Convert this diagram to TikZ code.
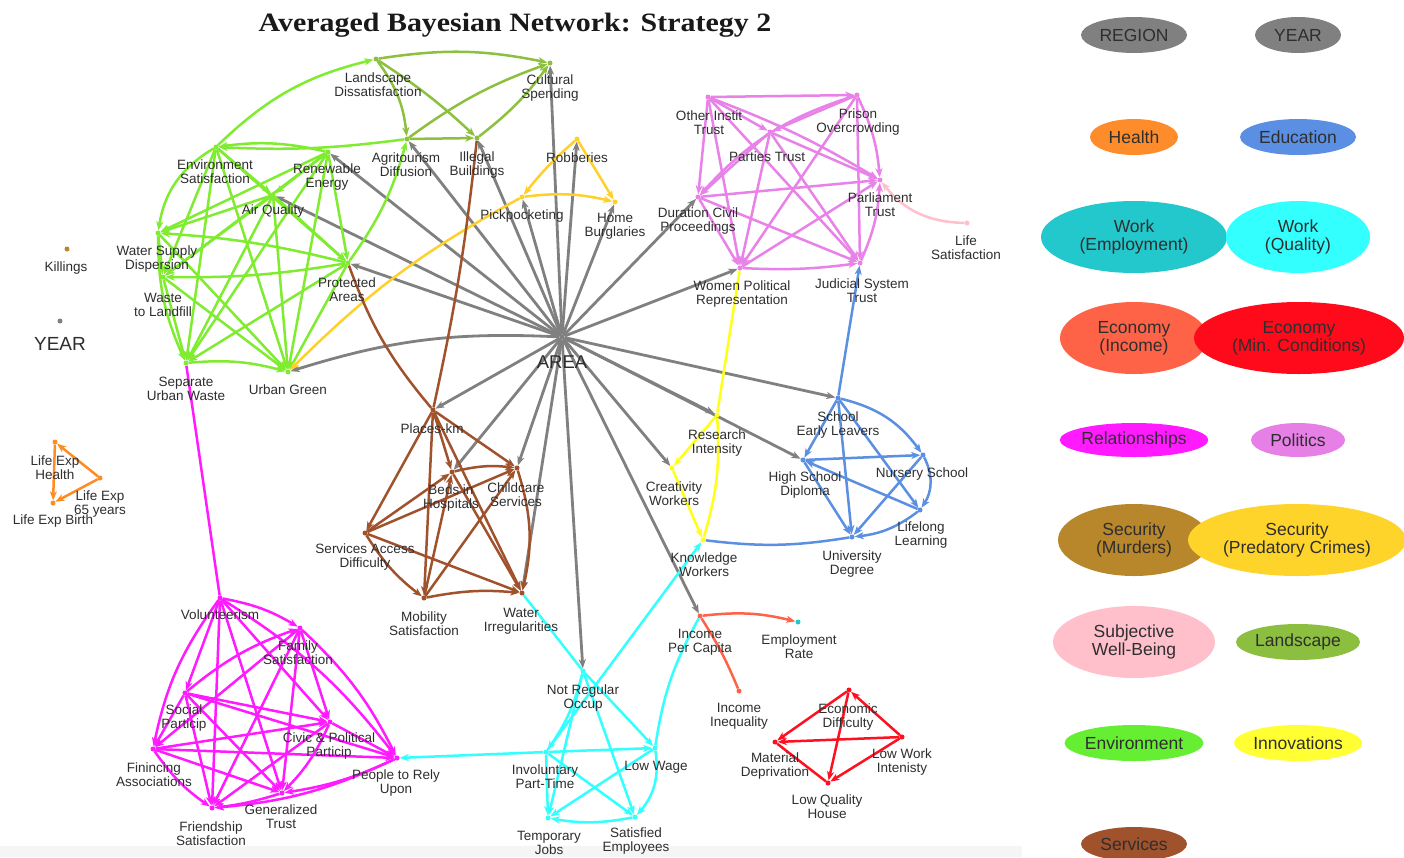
\documentclass[tikz,border=0pt]{standalone}
\usepackage{fontspec}
\usepackage{graphicx}
\setmainfont{Liberation Sans}
\newfontfamily\titlefont{Liberation Serif}
\usetikzlibrary{arrows.meta,shapes.geometric}
\definecolor{txt}{HTML}{2E2E2E}
\definecolor{cgray}{HTML}{808080}
\definecolor{cenv}{HTML}{7FEC30}
\definecolor{cland}{HTML}{8DC03F}
\definecolor{cserv}{HTML}{A0522D}
\definecolor{cpol}{HTML}{E882E8}
\definecolor{cedu}{HTML}{5B8FE2}
\definecolor{cinn}{HTML}{FFFF1A}
\definecolor{cpred}{HTML}{FFD02A}
\definecolor{cwq}{HTML}{33FFFF}
\definecolor{cwe}{HTML}{22C8CC}
\definecolor{cinc}{HTML}{FF6347}
\definecolor{cmin}{HTML}{FF1020}
\definecolor{crel}{HTML}{FF1AFF}
\definecolor{cswb}{HTML}{FFC0CB}
\definecolor{chea}{HTML}{FF8C22}
\definecolor{cmur}{HTML}{B8862B}
\definecolor{lgHea}{HTML}{FF8C2A}
\definecolor{lgEdu}{HTML}{5B8FE3}
\definecolor{lgMin}{HTML}{FF0A1A}
\definecolor{lgPol}{HTML}{E680E6}
\definecolor{lgPred}{HTML}{FFD42A}
\definecolor{lgLand}{HTML}{8CBF3F}
\definecolor{lgEnv}{HTML}{66EE33}
\definecolor{lgInn}{HTML}{FFFF33}
\pgfdeclarelayer{bg}
\pgfdeclarelayer{edges}
\pgfsetlayers{bg,edges,main}
\tikzset{
  pt/.style={circle,fill=#1,inner sep=0pt,minimum size=5pt},
  lb/.style={font=\fontsize{13.5}{14}\selectfont,text=txt,align=center,inner sep=0pt},
  ar/.style={draw=#1,line width=2.5pt,-{Stealth[length=9pt,width=7pt,inset=2.5pt]}},
  ln/.style={draw=#1,line width=2.5pt},
  lg/.style={ellipse,fill=#1,inner sep=0pt,text=txt,align=center,font=\fontsize{17.5}{18}\selectfont}
}
\begin{document}
\begin{tikzpicture}[x=1pt,y=-1pt]
\useasboundingbox (0,0) rectangle (1404,857);
\begin{pgfonlayer}{bg}
\fill[white] (0,0) rectangle (1404,857);
\fill[black!4] (0,846) rectangle (1022,857);
\end{pgfonlayer}

% title
\node[font=\titlefont\bfseries\fontsize{26.5}{30}\selectfont,text=black!90] (title) at (515,25) {\scalebox{1.13}[1]{Averaged Bayesian Network: Strategy 2}};

% ---------- points ----------
% environment
\node[pt=cenv] (ES) at (216,147) {};
\node[pt=cenv] (RE) at (328,152) {};
\node[pt=cenv] (AQ) at (273,195) {};
\node[pt=cenv] (WS) at (158,233) {};
\node[pt=cenv] (WL) at (163,277) {};
\node[pt=cenv] (PA) at (348,263) {};
\node[pt=cenv] (SU) at (186,363) {};
\node[pt=cenv] (UG) at (288,372) {};
% landscape
\node[pt=cland] (LD) at (376,59) {};
\node[pt=cland] (CSp) at (550,63) {};
\node[pt=cland] (AD) at (407,139) {};
\node[pt=cland] (IB) at (477,138) {};
% predatory crimes
\node[pt=cpred] (Rob) at (577,139) {};
\node[pt=cpred] (Pick) at (522,197) {};
\node[pt=cpred] (HB) at (615,202) {};
% politics
\node[pt=cpol] (OIT) at (708,97) {};
\node[pt=cpol] (PO) at (857,95) {};
\node[pt=cpol] (PaT) at (770,132) {};
\node[pt=cpol] (PT) at (880,180) {};
\node[pt=cpol] (DCP) at (698,197) {};
\node[pt=cpol] (WPR) at (740,268) {};
\node[pt=cpol] (JST) at (860,263) {};
\node[pt=cswb] (LS) at (967,223) {};
\node[pt=cmur] (Kil) at (67,249) {};
\node[pt=cgray] (Yr) at (60,321) {};
\node[pt=cgray] (AR) at (562,337) {};
% services
\node[pt=cserv] (PK) at (433,410) {};
\node[pt=cserv] (BH) at (452,472) {};
\node[pt=cserv] (CC) at (517,468) {};
\node[pt=cserv] (SAD) at (365,533) {};
\node[pt=cserv] (MS) at (424,598) {};
\node[pt=cserv] (WI) at (522,593) {};
% education
\node[pt=cedu] (SEL) at (838,398) {};
\node[pt=cedu] (HSD) at (803,460) {};
\node[pt=cedu] (NS) at (923,455) {};
\node[pt=cedu] (LL) at (920,510) {};
\node[pt=cedu] (UD) at (852,537) {};
% innovations
\node[pt=cinn] (RI) at (717,415) {};
\node[pt=cinn] (CW) at (672,468) {};
\node[pt=cinn] (KW) at (703,540) {};
% health
\node[pt=chea] (LEH) at (55,442) {};
\node[pt=chea] (L65) at (100,478) {};
\node[pt=chea] (LEB) at (53,503) {};
% work quality
\node[pt=cwq] (NRO) at (583,671) {};
\node[pt=cwq] (IPT) at (546,752) {};
\node[pt=cwq] (LW) at (655,748) {};
\node[pt=cwq] (TJ) at (548,818) {};
\node[pt=cwq] (SE) at (635,817) {};
% economy
\node[pt=cinc] (IPC) at (700,616) {};
\node[pt=cinc] (II) at (739,691) {};
\node[pt=cwe] (ER) at (798,622) {};
\node[pt=cmin] (ED) at (849,690) {};
\node[pt=cmin] (MD) at (775,742) {};
\node[pt=cmin] (LWI) at (902,737) {};
\node[pt=cmin] (LQH) at (828,783) {};
% relationships
\node[pt=crel] (Vol) at (220,598) {};
\node[pt=crel] (FS) at (300,628) {};
\node[pt=crel] (SP) at (185,693) {};
\node[pt=crel] (CPP) at (330,722) {};
\node[pt=crel] (FA) at (153,749) {};
\node[pt=crel] (PRU) at (397,758) {};
\node[pt=crel] (GT) at (282,793) {};
\node[pt=crel] (FrS) at (212,808) {};

% ---------- edges ----------
\begin{pgfonlayer}{edges}
% gray from AREA
\foreach \t in {CSp,IB,AD,RE,AQ,PA,Pick,Rob,HB,DCP,WPR,PK,BH,CC,WI,NRO,IPC,CW,RI,HSD,SEL}
  \draw[ar=cgray,line width=2.8pt] (AR) -- (\t);
\draw[ar=cgray,line width=2.8pt] (AR) to[bend right=10] (UG);
% environment
\draw[ar=cenv] (ES) to[bend right=25] (WS);
\draw[ar=cenv] (ES) -- (WL);
\draw[ar=cenv] (ES) -- (SU);
\draw[ar=cenv] (ES) -- (UG);
\draw[ar=cenv] (ES) -- (PA);
\draw[ar=cenv] (ES) -- (AQ);
\draw[ar=cenv] (RE) to[bend right=10] (ES);
\draw[ar=cenv] (RE) -- (WS);
\draw[ar=cenv] (RE) -- (WL);
\draw[ar=cenv] (RE) -- (AQ);
\draw[ar=cenv] (RE) -- (SU);
\draw[ar=cenv] (RE) -- (UG);
\draw[ar=cenv] (RE) -- (PA);
\draw[ar=cenv] (AQ) -- (WS);
\draw[ar=cenv] (AQ) -- (WL);
\draw[ar=cenv] (AQ) -- (SU);
\draw[ar=cenv] (AQ) -- (UG);
\draw[ar=cenv] (AQ) -- (PA);
\draw[ar=cenv] (WS) -- (WL);
\draw[ar=cenv] (PA) to[bend right=5] (WS);
\draw[ar=cenv] (PA) to[bend left=5] (WL);
\draw[ar=cenv] (WS) -- (UG);
\draw[ar=cenv] (WS) to[bend right=12] (SU);
\draw[ar=cenv] (WL) -- (SU);
\draw[ar=cenv] (WL) -- (UG);
\draw[ar=cenv] (SU) to[bend left=10] (UG);
\draw[ar=cenv] (PA) -- (SU);
\draw[ar=cenv] (PA) -- (UG);
\draw[ar=cenv] (ES) to[bend left=15] (LD);
\draw[ar=cenv] (AD) to[bend left=5] (ES);
\draw[ar=cenv] (PA) to[bend right=10] (AD);
% landscape
\draw[ar=cland] (LD) to[bend left=10] (CSp);
\draw[ar=cland] (LD) to[bend left=5] (IB);
\draw[ar=cland] (LD) to[bend left=15] (AD);
\draw[ar=cland] (AD) -- (IB);
\draw[ar=cland] (AD) to[bend left=8] (CSp);
\draw[ar=cland] (IB) to[bend right=8] (CSp);
% predatory crimes
\draw[ar=cpred] (Rob) to[bend right=5] (Pick);
\draw[ar=cpred] (Rob) -- (HB);
\draw[ar=cpred] (Pick) to[bend left=10] (HB);
\draw[ar=cpred] (Pick) to[bend right=8] (UG);
% politics
\draw[ar=cpol] (OIT) -- (PO);
\draw[ar=cpol] (OIT) -- (PaT);
\draw[ar=cpol] (OIT) to[bend left=5] (PT);
\draw[ar=cpol] (OIT) -- (DCP);
\draw[ar=cpol] (OIT) -- (WPR);
\draw[ar=cpol] (OIT) -- (JST);
\draw[ar=cpol] (PO) -- (PaT);
\draw[ar=cpol] (PO) to[bend left=10] (PT);
\draw[ar=cpol] (PO) to[bend right=15] (DCP);
\draw[ar=cpol] (PO) -- (WPR);
\draw[ar=cpol] (PO) -- (JST);
\draw[ar=cpol] (PaT) -- (PT);
\draw[ar=cpol] (PaT) -- (DCP);
\draw[ar=cpol] (PaT) -- (WPR);
\draw[ar=cpol] (PaT) -- (JST);
\draw[ar=cpol] (DCP) -- (PT);
\draw[ar=cpol] (WPR) -- (PT);
\draw[ar=cpol] (JST) to[bend right=10] (PT);
\draw[ar=cpol] (DCP) -- (WPR);
\draw[ar=cpol] (DCP) -- (JST);
\draw[ar=cpol] (WPR) to[bend right=5] (JST);
\draw[ar=cswb] (LS) to[bend left=25] (PT);
% services
\draw[ar=cserv] (PK) -- (SAD);
\draw[ar=cserv] (PK) -- (BH);
\draw[ar=cserv] (PK) -- (CC);
\draw[ar=cserv] (PK) -- (MS);
\draw[ar=cserv] (PK) -- (WI);
\draw[ar=cserv] (SAD) -- (BH);
\draw[ar=cserv] (SAD) -- (CC);
\draw[ar=cserv] (SAD) -- (WI);
\draw[ar=cserv] (SAD) to[bend right=10] (MS);
\draw[ar=cserv] (MS) -- (BH);
\draw[ar=cserv] (MS) -- (CC);
\draw[ar=cserv] (MS) to[bend left=8] (WI);
\draw[ar=cserv] (CC) to[bend left=15] (WI);
\draw[ar=cserv] (BH) to[bend left=10] (CC);
\draw[ar=cserv] (BH) -- (WI);
\draw[ln=cserv] (PK) to[bend left=10] (PA);
\draw[ln=cserv] (PK) to[bend right=3] (IB);
% education
\draw[ar=cedu] (SEL) -- (JST);
\draw[ar=cedu] (SEL) -- (HSD);
\draw[ar=cedu] (SEL) to[bend left=20] (NS);
\draw[ar=cedu] (SEL) -- (UD);
\draw[ar=cedu] (SEL) -- (LL);
\draw[ar=cedu] (HSD) -- (NS);
\draw[ar=cedu] (HSD) -- (UD);
\draw[ar=cedu] (LL) -- (HSD);
\draw[ar=cedu] (NS) -- (UD);
\draw[ar=cedu] (NS) to[bend left=30] (LL);
\draw[ar=cedu] (LL) to[bend left=15] (UD);
\draw[ln=cedu] (KW) to[bend right=8] (UD);
% innovations
\draw[ln=cinn] (WPR) -- (RI);
\draw[ln=cinn] (RI) to[bend left=10] (KW);
\draw[ar=cinn] (RI) -- (CW);
\draw[ar=cinn] (CW) -- (KW);
% work quality
\draw[ln=cwq] (WI) -- (NRO);
\draw[ar=cwq] (NRO) -- (LW);
\draw[ar=cwq] (IPT) -- (KW);
\draw[ar=cwq] (NRO) to[bend left=10] (IPT);
\draw[ar=cwq] (NRO) -- (TJ);
\draw[ar=cwq] (NRO) -- (SE);
\draw[ar=cwq] (IPT) -- (LW);
\draw[ar=cwq] (IPT) -- (TJ);
\draw[ar=cwq] (IPT) -- (SE);
\draw[ar=cwq] (LW) -- (TJ);
\draw[ar=cwq] (LW) to[bend left=25] (SE);
\draw[ar=cwq] (SE) to[bend left=10] (TJ);
\draw[ln=cwq] (LW) to[bend left=10] (IPC);
\draw[ar=cwq] (IPT) -- (PRU);
% economy
\draw[ar=cinc] (IPC) to[bend left=10] (ER);
\draw[ln=cinc] (IPC) to[bend left=5] (II);
\draw[ar=cmin] (ED) -- (MD);
\draw[ar=cmin] (LWI) -- (MD);
\draw[ar=cmin] (ED) -- (LQH);
\draw[ar=cmin] (LWI) -- (LQH);
\draw[ln=cmin] (MD) -- (LQH);
\draw[ar=cmin] (LWI) -- (ED);
% health
\draw[ar=chea] (L65) -- (LEH);
\draw[ar=chea] (LEH) -- (LEB);
\draw[ar=chea] (L65) -- (LEB);
% relationships
\draw[ln=crel] (Vol) -- (SU);
\draw[ar=crel] (Vol) to[bend left=10] (FS);
\draw[ar=crel] (Vol) -- (SP);
\draw[ar=crel] (Vol) -- (CPP);
\draw[ar=crel] (Vol) to[bend right=12] (FA);
\draw[ar=crel] (Vol) to[bend left=10] (PRU);
\draw[ar=crel] (Vol) -- (GT);
\draw[ar=crel] (Vol) -- (FrS);
\draw[ar=crel] (SP) to[bend left=10] (FS);
\draw[ar=crel] (FS) -- (CPP);
\draw[ar=crel] (FS) -- (FA);
\draw[ar=crel] (FS) to[bend left=10] (PRU);
\draw[ar=crel] (FS) -- (GT);
\draw[ar=crel] (FS) -- (FrS);
\draw[ar=crel] (SP) -- (CPP);
\draw[ar=crel] (SP) -- (FA);
\draw[ar=crel] (SP) -- (PRU);
\draw[ar=crel] (SP) -- (GT);
\draw[ar=crel] (SP) -- (FrS);
\draw[ar=crel] (FA) -- (CPP);
\draw[ar=crel] (CPP) -- (PRU);
\draw[ar=crel] (CPP) to[bend left=10] (GT);
\draw[ar=crel] (CPP) -- (FrS);
\draw[ar=crel] (FA) -- (PRU);
\draw[ar=crel] (FA) -- (GT);
\draw[ar=crel] (FA) to[bend right=10] (FrS);
\draw[ar=crel] (PRU) to[bend left=8] (GT);
\draw[ar=crel] (PRU) to[bend left=10] (FrS);
\draw[ar=crel] (GT) to[bend left=5] (FrS);
\end{pgfonlayer}

% ---------- labels ----------
\node[lb] (LDl) at (378,85) {Landscape\\Dissatisfaction};
\node[lb] (CSpl) at (550,88) {Cultural\\Spending};
\node[lb] (ADl) at (406,165) {Agritourism\\Diffusion};
\node[lb] (IBl) at (477,165) {Illegal\\Buildings};
\node[lb] (Robl) at (577,158) {Robberies};
\node[lb] (ESl) at (215,172) {Environment\\Satisfaction};
\node[lb] (REl) at (327,177) {Renewable\\Energy};
\node[lb] (AQl) at (273,211) {Air Quality};
\node[lb] (Pickl) at (522,216) {Pickpocketing};
\node[lb] (HBl) at (615,226) {Home\\Burglaries};
\node[lb] (OITl) at (709,123) {Other Instit\\Trust};
\node[lb] (POl) at (858,122) {Prison\\Overcrowding};
\node[lb] (PaTl) at (767,157) {Parties Trust};
\node[lb] (PTl) at (880,205) {Parliament\\Trust};
\node[lb] (LSl) at (966,248) {Life\\Satisfaction};
\node[lb] (DCPl) at (698,221) {Duration Civil\\Proceedings};
\node[lb] (WSl) at (157,259) {Water Supply\\Dispersion};
\node[lb] (Kill) at (66,268) {Killings};
\node[lb] (WLl) at (163,305) {Waste\\to Landfill};
\node[lb] (PAl) at (347,290) {Protected\\Areas};
\node[lb] (WPRl) at (742,294) {Women Political\\Representation};
\node[lb] (JSTl) at (862,291) {Judicial System\\Trust};
\node[lb,font=\fontsize{19}{20}\selectfont] (Yrl) at (60,344) {YEAR};
\node[lb,font=\fontsize{18.5}{20}\selectfont] (ARl) at (562,362) {AREA};
\node[lb] (SUl) at (186,389) {Separate\\Urban Waste};
\node[lb] (UGl) at (288,390) {Urban Green};
\node[lb] (PKl) at (432,429) {Places-km};
\node[lb] (SELl) at (838,425) {School\\Early Leavers};
\node[lb] (RIl) at (717,443) {Research\\Intensity};
\node[lb] (LEHl) at (55,468) {Life Exp\\Health};
\node[lb] (HSDl) at (805,485) {High School\\Diploma};
\node[lb] (NSl) at (922,474) {Nursery School};
\node[lb] (BHl) at (451,498) {Beds in\\Hospitals};
\node[lb] (CCl) at (516,495) {Childcare\\Services};
\node[lb] (CWl) at (674,494) {Creativity\\Workers};
\node[lb] (L65l) at (100,504) {Life Exp\\65 years};
\node[lb] (LEBl) at (53,521) {Life Exp Birth};
\node[lb] (LLl) at (921,535) {Lifelong\\Learning};
\node[lb] (SADl) at (365,557) {Services Access\\Difficulty};
\node[lb] (KWl) at (704,565) {Knowledge\\Workers};
\node[lb] (UDl) at (852,564) {University\\Degree};
\node[lb] (Voll) at (220,615) {Volunteerism};
\node[lb] (MSl) at (424,624) {Mobility\\Satisfaction};
\node[lb] (WIl) at (521,621) {Water\\Irregularities};
\node[lb] (IPCl) at (700,642) {Income\\Per Capita};
\node[lb] (ERl) at (799,647) {Employment\\Rate};
\node[lb] (FSl) at (298,653) {Family\\Satisfaction};
\node[lb] (NROl) at (583,698) {Not Regular\\Occup};
\node[lb] (IIl) at (739,716) {Income\\Inequality};
\node[lb] (EDl) at (848,717) {Economic\\Difficulty};
\node[lb] (SPl) at (184,718) {Social\\Particip};
\node[lb] (CPPl) at (329,746) {Civic \& Political\\Particip};
\node[lb] (LWIl) at (902,762) {Low Work\\Intenisty};
\node[lb] (MDl) at (775,766) {Material\\Deprivation};
\node[lb] (FAl) at (154,775) {Finincing\\Associations};
\node[lb] (IPTl) at (545,777) {Involuntary\\Part-Time};
\node[lb] (LWl) at (656,767) {Low Wage};
\node[lb] (PRUl) at (396,783) {People to Rely\\Upon};
\node[lb] (LQHl) at (827,807) {Low Quality\\House};
\node[lb] (GTl) at (281,817) {Generalized\\Trust};
\node[lb] (FrSl) at (211,834) {Friendship\\Satisfaction};
\node[lb] (TJl) at (549,843) {Temporary\\Jobs};
\node[lb] (SEl) at (636,841) {Satisfied\\Employees};

% ---------- legend ----------
\node[lg=cgray,minimum width=106pt,minimum height=36pt] (gRegion) at (1134,35) {REGION};
\node[lg=cgray,minimum width=86pt,minimum height=36pt] (gYear) at (1298,35) {YEAR};
\node[lg=lgHea,minimum width=88pt,minimum height=36pt] (gHealth) at (1134,137) {Health};
\node[lg=lgEdu,minimum width=116pt,minimum height=36pt] (gEdu) at (1298,137) {Education};
\node[lg=cwe,minimum width=186pt,minimum height=72pt] (gWE) at (1134,237) {Work\\(Employment)};
\node[lg=cwq,minimum width=144pt,minimum height=72pt] (gWQ) at (1298,237) {Work\\(Quality)};
\node[lg=cinc,minimum width=148pt,minimum height=72pt] (gInc) at (1134,338) {Economy\\(Income)};
\node[lg=lgMin,minimum width=210pt,minimum height=72pt] (gMin) at (1299,338) {Economy\\(Min. Conditions)};
\node[lg=crel,minimum width=144pt,minimum height=34pt] (gRel) at (1134,440) {Relationships};
\node[lg=lgPol,minimum width=94pt,minimum height=34pt] (gPol) at (1298,440) {Politics};
\node[lg=cmur,minimum width=152pt,minimum height=72pt] (gMur) at (1134,540) {Security\\(Murders)};
\node[lg=lgPred,minimum width=218pt,minimum height=72pt] (gPred) at (1297,540) {Security\\(Predatory Crimes)};
\node[lg=cswb,minimum width=162pt,minimum height=72pt] (gSWB) at (1134,642) {Subjective\\Well-Being};
\node[lg=lgLand,minimum width=124pt,minimum height=36pt] (gLand) at (1298,642) {Landscape};
\node[lg=lgEnv,minimum width=136pt,minimum height=36pt] (gEnv) at (1134,743) {Environment};
\node[lg=lgInn,minimum width=128pt,minimum height=36pt] (gInn) at (1298,743) {Innovations};
\node[lg=cserv,minimum width=106pt,minimum height=34pt] (gServ) at (1134,844) {Services};
\end{tikzpicture}
\end{document}
